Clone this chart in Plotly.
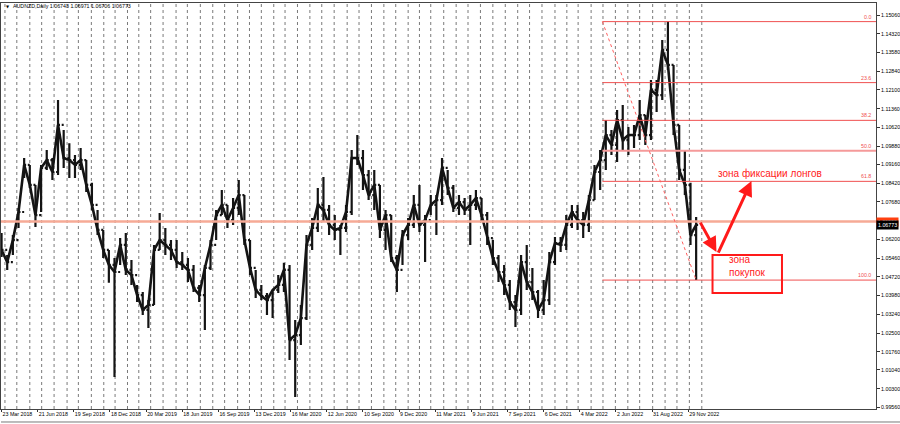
import numpy as np
import pandas as pd
import plotly.graph_objects as go

# trading calendar (MT4 daily bars, weekends and Christmas / New Year missing)
START = "2018-03-23"
HOLIDAYS = ["2018-12-25", "2019-01-01", "2019-12-25", "2020-01-01",
            "2020-12-25", "2021-01-01"]

# AUDNZD, sampled every 10 daily bars: high / low / close
high = [1.0645, 1.0558, 1.0637, 1.0744, 1.0941, 1.0914, 1.0835, 1.0914, 1.0973, 1.0941,
        1.1170, 1.1052, 1.1000, 1.0953, 1.0981, 1.0933, 1.0843, 1.0736, 1.0657, 1.0578,
        1.0546, 1.0625, 1.0645, 1.0538, 1.0440, 1.0412, 1.0380, 1.0598, 1.0724, 1.0665,
        1.0617, 1.0617, 1.0570, 1.0546, 1.0519, 1.0440, 1.0519, 1.0617, 1.0736, 1.0815,
        1.0756, 1.0783, 1.0854, 1.0795, 1.0617, 1.0499, 1.0440, 1.0408, 1.0420, 1.0479,
        1.0527, 1.0519, 1.0301, 1.0361, 1.0637, 1.0704, 1.0823, 1.0866, 1.0756, 1.0716,
        1.0677, 1.0756, 1.0973, 1.1032, 1.0973, 1.0894, 1.0894, 1.0835, 1.0736, 1.0716,
        1.0558, 1.0657, 1.0704, 1.0795, 1.0835, 1.0716, 1.0795, 1.0795, 1.0941, 1.0894,
        1.0835, 1.0795, 1.0783, 1.0795, 1.0815, 1.0783, 1.0728, 1.0617, 1.0558, 1.0519,
        1.0459, 1.0400, 1.0558, 1.0598, 1.0507, 1.0420, 1.0459, 1.0570, 1.0629, 1.0629,
        1.0716, 1.0756, 1.0756, 1.0728, 1.0795, 1.0914, 1.0973, 1.1091, 1.1052, 1.1131,
        1.1151, 1.1064, 1.1072, 1.1170, 1.1111, 1.1249, 1.1249, 1.1407, 1.1480, 1.1309,
        1.1072, 1.0973, 1.0843, 1.0708]
low = [1.0550, 1.0499, 1.0558, 1.0665, 1.0862, 1.0823, 1.0669, 1.0728, 1.0894, 1.0854,
       1.0874, 1.0902, 1.0862, 1.0862, 1.0894, 1.0807, 1.0736, 1.0637, 1.0546, 1.0448,
       1.0076, 1.0519, 1.0479, 1.0440, 1.0372, 1.0321, 1.0270, 1.0361, 1.0578, 1.0558,
       1.0538, 1.0507, 1.0499, 1.0451, 1.0412, 1.0372, 1.0262, 1.0499, 1.0617, 1.0716,
       1.0665, 1.0677, 1.0716, 1.0598, 1.0479, 1.0388, 1.0380, 1.0321, 1.0309, 1.0408,
       1.0412, 1.0143, 0.9997, 1.0203, 1.0301, 1.0578, 1.0649, 1.0688, 1.0637, 1.0617,
       1.0558, 1.0649, 1.0716, 1.0914, 1.0815, 1.0775, 1.0736, 1.0625, 1.0578, 1.0530,
       1.0412, 1.0519, 1.0617, 1.0665, 1.0649, 1.0530, 1.0716, 1.0637, 1.0756, 1.0795,
       1.0728, 1.0716, 1.0716, 1.0598, 1.0736, 1.0688, 1.0598, 1.0519, 1.0451, 1.0400,
       1.0341, 1.0274, 1.0321, 1.0420, 1.0380, 1.0309, 1.0321, 1.0361, 1.0519, 1.0570,
       1.0578, 1.0665, 1.0657, 1.0625, 1.0649, 1.0775, 1.0815, 1.0894, 1.0953, 1.0925,
       1.0973, 1.0953, 1.0981, 1.1012, 1.0993, 1.1012, 1.1123, 1.1170, 1.1289, 1.1032,
       1.0854, 1.0795, 1.0598, 1.0459]
close = [1.0578, 1.0530, 1.0617, 1.0728, 1.0914, 1.0835, 1.0716, 1.0902, 1.0933, 1.0886,
         1.1072, 1.0941, 1.0933, 1.0914, 1.0933, 1.0835, 1.0756, 1.0657, 1.0578, 1.0519,
         1.0491, 1.0598, 1.0499, 1.0479, 1.0400, 1.0341, 1.0361, 1.0578, 1.0617, 1.0598,
         1.0578, 1.0530, 1.0519, 1.0499, 1.0428, 1.0400, 1.0507, 1.0598, 1.0716, 1.0756,
         1.0696, 1.0744, 1.0795, 1.0617, 1.0507, 1.0420, 1.0396, 1.0380, 1.0420, 1.0440,
         1.0499, 1.0222, 1.0242, 1.0309, 1.0598, 1.0665, 1.0756, 1.0736, 1.0677, 1.0657,
         1.0665, 1.0728, 1.0941, 1.0941, 1.0874, 1.0795, 1.0835, 1.0657, 1.0716, 1.0546,
         1.0499, 1.0637, 1.0677, 1.0756, 1.0677, 1.0696, 1.0756, 1.0775, 1.0902, 1.0823,
         1.0744, 1.0767, 1.0736, 1.0756, 1.0783, 1.0716, 1.0625, 1.0546, 1.0491, 1.0440,
         1.0372, 1.0341, 1.0530, 1.0451, 1.0412, 1.0341, 1.0380, 1.0530, 1.0605, 1.0598,
         1.0677, 1.0728, 1.0696, 1.0677, 1.0775, 1.0886, 1.0933, 1.1032, 1.0993, 1.1091,
         1.1012, 1.1032, 1.1032, 1.1111, 1.1032, 1.1210, 1.1190, 1.1368, 1.1309, 1.1072,
         1.0894, 1.0835, 1.0637, 1.06773]

header = "AUDNZD,Daily 1.06743 1.06971 1.06706 1.06773"
last_price = 1.06773
hline_price = 1.0690

label_dates = ["2018-03-23", "2018-06-21", "2018-09-19", "2018-12-18", "2019-03-20",
               "2019-06-18", "2019-09-16", "2019-12-13", "2020-03-16", "2020-06-12",
               "2020-09-10", "2020-12-09", "2021-03-11", "2021-06-09", "2021-09-07",
               "2021-12-06", "2022-03-04", "2022-06-02", "2022-08-31", "2022-11-29"]

price_ticks = [1.15060, 1.14320, 1.13580, 1.12840, 1.12100, 1.11360, 1.10620, 1.09880,
               1.09160, 1.08420, 1.07680, 1.06200, 1.05460, 1.04720, 1.03980, 1.03240,
               1.02500, 1.01760, 1.01040, 1.00300, 0.99560]

fib_levels = [0.0, 23.6, 38.2, 50.0, 61.8, 100.0]
fib_high = 1.1480
fib_low = 1.0459
fib_start_bar = 1064
fib_end_bar = 1230

RED = "#ff1a1a"
FIB_RED = "#f05050"
FONT = "Liberation Sans"
SMALL = 5.3


def bar_index(d):
    return int(np.busday_count(START, np.datetime64(d, "D"), holidays=HOLIDAYS))


bars = np.arange(len(close)) * 10
opens = [close[0]] + close[:-1]

label_bars = [bar_index(d) for d in label_dates]
label_text = [f"{pd.Timestamp(d).day} {pd.Timestamp(d):%b %Y}" for d in label_dates]

month_starts = pd.date_range("2018-04-01", "2023-01-01", freq="MS")
grid_bars = [int(np.busday_count(START, np.busday_offset(np.datetime64(m.date()), 0,
                                                          roll="forward", holidays=HOLIDAYS),
                                 holidays=HOLIDAYS)) for m in month_starts]

X_RANGE = [-1, 1548.5]
Y_RANGE = [0.99498, 1.15535]

fig = go.Figure()

# bar ranges
fig.add_trace(go.Ohlc(
    x=bars, open=opens, high=high, low=low, close=close, tickwidth=0.35,
    increasing=dict(line=dict(color="#141414", width=2.2)),
    decreasing=dict(line=dict(color="#141414", width=2.2)),
    showlegend=False
))
# close path
fig.add_trace(go.Scatter(
    x=bars, y=close, mode="lines", line=dict(color="#141414", width=2.6),
    showlegend=False, hoverinfo="skip"
))

# monthly dashed grid
for g in grid_bars:
    fig.add_shape(type="line", x0=g, x1=g, y0=0, y1=1, xref="x", yref="paper",
                  line=dict(color="#7a7a7a", width=1, dash="dot"), layer="below")

# horizontal line near current price
fig.add_shape(type="line", x0=0, x1=1, xref="paper", y0=hline_price, y1=hline_price,
              line=dict(color="#f6aa96", width=2.5))

# fibonacci retracement
fib_prices = [fib_high - (fib_high - fib_low) * lv / 100 for lv in fib_levels]
for lv, fp in zip(fib_levels, fib_prices):
    fig.add_shape(type="line", x0=fib_start_bar, x1=X_RANGE[1], y0=fp, y1=fp,
                  line=dict(color="#f59a9a" if lv == 50.0 else FIB_RED,
                            width=2 if lv == 50.0 else 1))
    fig.add_annotation(x=0.9965, xref="paper", y=fp, yref="y", text=f"{lv:.1f}",
                       showarrow=False, xanchor="right", yanchor="bottom",
                       font=dict(family=FONT, size=SMALL, color=FIB_RED))
fig.add_shape(type="line", x0=fib_start_bar, y0=fib_high, x1=fib_end_bar, y1=fib_low,
              line=dict(color="#ff6060", width=1, dash="dot"))

# buy zone box and arrows
fig.add_shape(type="rect", x0=1259, x1=1382, y0=1.0408, y1=1.0558,
              line=dict(color=RED, width=2))
fig.add_annotation(x=1266, y=1.0570, ax=1236, ay=1.0692, xref="x", yref="y",
                   axref="x", ayref="y", text="", showarrow=True, arrowhead=2,
                   arrowsize=1, arrowwidth=3, arrowcolor=RED)
fig.add_annotation(x=1328, y=1.0850, ax=1268, ay=1.0562, xref="x", yref="y",
                   axref="x", ayref="y", text="", showarrow=True, arrowhead=2,
                   arrowsize=1, arrowwidth=3, arrowcolor=RED)
fig.add_annotation(x=1266, y=1.0882, text="зона фиксации лонгов", showarrow=False,
                   xanchor="left", yanchor="middle",
                   font=dict(family=FONT, size=10, color=RED))
fig.add_annotation(x=1285, y=1.0513, text="зона<br>покупок", showarrow=False,
                   xanchor="left", yanchor="middle", align="left",
                   font=dict(family=FONT, size=10, color=RED))

# header
fig.add_annotation(x=10 / 877, y=0.9926, xref="paper", yref="paper", text=header,
                   showarrow=False, xanchor="left", yanchor="middle",
                   font=dict(family=FONT, size=SMALL, color="#000000"))
fig.add_annotation(x=3 / 877, y=0.9926, xref="paper", yref="paper", text="▼",
                   showarrow=False, xanchor="left", yanchor="middle",
                   font=dict(family="DejaVu Sans", size=4, color="#000000"))

# price labels on the axis
fig.add_annotation(x=1, y=hline_price, xref="paper", yref="y", text=f"{hline_price:.5f}",
                   showarrow=False, xanchor="left", yanchor="middle", bgcolor="#ff4010",
                   borderpad=1, font=dict(family=FONT, size=SMALL, color="#ffffff"))
fig.add_annotation(x=1, y=last_price, xref="paper", yref="y", text=f"{last_price:.5f}",
                   showarrow=False, xanchor="left", yanchor="middle", bgcolor="#000000",
                   borderpad=1, font=dict(family=FONT, size=SMALL, color="#ffffff"))

# window frame below time scale
fig.add_shape(type="line", x0=0, x1=1.03, y0=-0.032, y1=-0.032, xref="paper",
              yref="paper", line=dict(color="#7a7a7a", width=1))

fig.update_layout(
    width=900, height=424,
    margin=dict(l=0, r=23, t=3, b=15),
    paper_bgcolor="white", plot_bgcolor="white",
    showlegend=False,
    xaxis=dict(range=X_RANGE, tickvals=label_bars, ticktext=label_text,
               ticklabelposition="outside right", tickangle=0, ticks="outside",
               ticklen=2, tickcolor="#333333", showgrid=False, zeroline=False,
               showline=True, mirror=True, linecolor="#444444", linewidth=1,
               tickfont=dict(family=FONT, size=SMALL, color="#000000"),
               rangeslider=dict(visible=False)),
    yaxis=dict(side="right", range=Y_RANGE, tickvals=price_ticks,
               ticktext=[f"{v:.5f}" for v in price_ticks], ticks="outside",
               ticklen=3, tickcolor="#333333", showgrid=False, zeroline=False,
               showline=True, mirror=True, linecolor="#444444", linewidth=1,
               tickfont=dict(family=FONT, size=SMALL, color="#000000")),
)

# the page's default body margin would shift the figure by 8px
fig.write_html("out.html", config={"displayModeBar": False},
               post_script="document.body.style.margin = '0';")
